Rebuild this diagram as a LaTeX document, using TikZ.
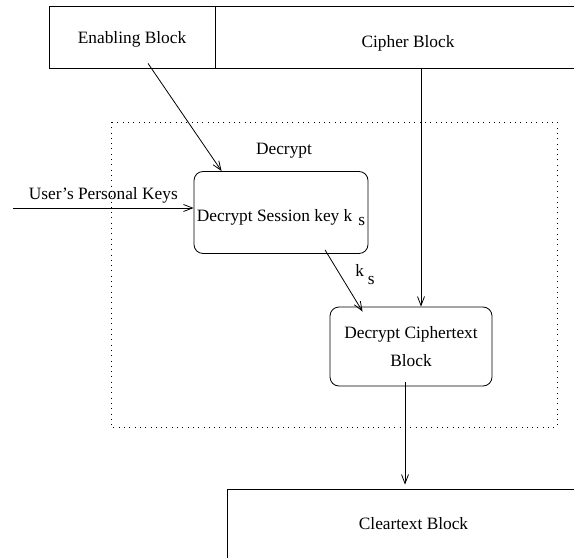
\documentclass[tikz,border=0pt]{standalone}
\usepackage{fontspec}
\setmainfont{Liberation Serif}
\usetikzlibrary{arrows.meta}

\begin{document}
\begin{tikzpicture}[x=1bp, y=-1bp, line width=0.8bp,
  font=\fontsize{17.4}{28}\selectfont,
  block/.style={draw, rectangle, inner sep=0pt},
  process/.style={draw, rounded corners=9bp, inner sep=0pt, align=center},
  flow/.style={-{Straight Barb[length=9bp,width=7bp]}},
  dotframe/.style={draw, dash pattern=on 0.9bp off 4.4bp}]
\clip (0,0) rectangle (574,558);
\node[block, minimum width=166bp, minimum height=62bp] (enabling) at (132,37) {\raisebox{-7bp}[0pt][0pt]{Enabling Block}};
\node[block, minimum width=386bp, minimum height=62bp] (cipher) at (408,37) {\raisebox{-11bp}[0pt][0pt]{Cipher Block}};
\draw[dotframe] (111,122) rectangle (557,427);
\node (decryptlbl) at (284,151) {Decrypt};
\node[process, minimum width=174bp, minimum height=82bp] (session) at (281,212.5) {\raisebox{-9bp}[0pt][0pt]{Decrypt Session key k\hspace{6bp}\raisebox{-4bp}{s}}};
\node[process, minimum width=162bp, minimum height=79bp] (deccipher) at (411,346.5) {Decrypt Ciphertext\\Block};
\node[block, minimum width=373bp, minimum height=70bp] (cleartext) at (413.5,524) {Cleartext Block};
\coordinate (keysin) at (13,208);
% arrows
\draw[flow] (keysin) -- (keysin -| session.west) node[midway, above=1.5bp] (keyslbl) {User's Personal Keys};
\draw[flow] ([xshift=16bp,yshift=5bp]enabling.south) -- ([xshift=28bp]session.north west);
\draw[flow] ([xshift=13bp]cipher.south) -- ([xshift=13bp]cipher.south |- deccipher.north);
\draw[flow] ([xshift=44bp,yshift=4bp]session.south) -- ([xshift=33bp,yshift=-5bp]deccipher.north west);
\node (kslbl) at (365,275) {k\hspace{4bp}\raisebox{-8bp}{s}};
\draw[flow] ([xshift=-6bp,yshift=4bp]deccipher.south) -- ([xshift=-6bp,yshift=4bp]deccipher.south |- cleartext.north);
\end{tikzpicture}
\end{document}
